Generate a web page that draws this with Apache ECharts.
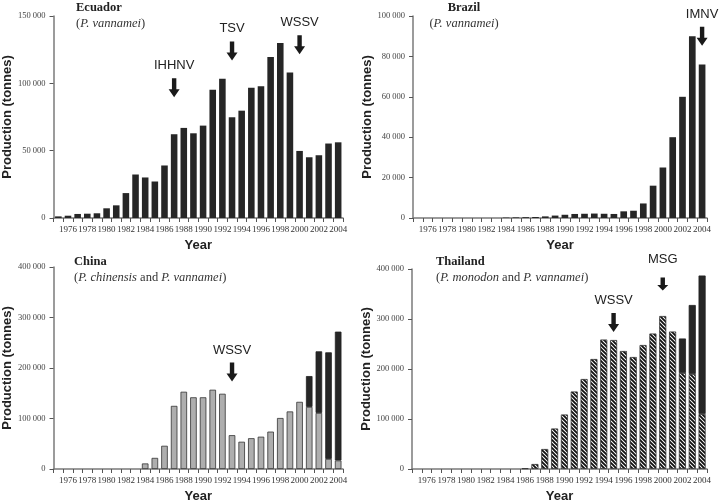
<!DOCTYPE html>
<html>
<head>
<meta charset="utf-8">
<script src="https://cdn.jsdelivr.net/npm/echarts@6/dist/echarts.min.js"></script>
<style>
  html, body { margin: 0; padding: 0; background: #fff; }
  #chart { width: 720px; height: 504px; }
</style>
</head>
<body>
<div id="chart"></div>
<script>
const years = ['1975', '1976', '1977', '1978', '1979', '1980', '1981', '1982', '1983', '1984',
  '1985', '1986', '1987', '1988', '1989', '1990', '1991', '1992', '1993', '1994',
  '1995', '1996', '1997', '1998', '1999', '2000', '2001', '2002', '2003', '2004']

// production, tonnes
const ecuador = [1200, 1700, 3000, 3200, 3500, 7200, 9400, 18500, 32300, 30100,
  27100, 39000, 62200, 66900, 62900, 68600, 95200, 103400, 74800, 79700,
  96700, 97900, 119600, 130000, 108000, 49800, 45100, 46600, 55300, 56200]
const brazil = [0, 0, 0, 0, 0, 0, 0, 0, 0, 200,
  300, 400, 500, 800, 1200, 1600, 2000, 2100, 2200, 2100,
  2000, 3300, 3600, 7200, 16000, 25000, 40000, 60000, 90000, 76000]
const chinaChinensis = [null, null, null, null, null, null, null, null, null, 11000,
  22000, 46000, 125000, 153000, 142000, 142000, 157000, 149000, 67000, 54000,
  61000, 64000, 74000, 101000, 114000, 133000, 123000, 111000, 20000, 17000]
const chinaVannamei = [null, null, null, null, null, null, null, null, null, null,
  null, null, null, null, null, null, null, null, null, null,
  null, null, null, null, null, null, 61000, 122000, 211000, 255000]
const thaiMonodon = [null, null, null, null, null, null, null, null, null, null,
  null, 1500, 10000, 40000, 81000, 109000, 155000, 180000, 220000, 259000,
  258000, 236000, 224000, 248000, 271000, 306000, 275000, 192000, 190000, 110000]
const thaiVannamei = [null, null, null, null, null, null, null, null, null, null,
  null, null, null, null, null, null, null, null, null, null,
  null, null, null, null, null, null, null, 69000, 138000, 277000]

// disease outbreaks: label, year, arrow height (tonnes)
const ecuadorEvents = ['IHHNV', 'TSV', 'WSSV']
const ecuadorEventYears = ['1987', '1993', '2000']
const ecuadorEventLevels = [96700, 124100, 128600]
const brazilEvents = ['IMNV']
const brazilEventYears = ['2004']
const brazilEventLevels = [90000]
const chinaEvents = ['WSSV']
const chinaEventYears = ['1993']
const chinaEventLevels = [192000]
const thaiEvents = ['WSSV', 'MSG']
const thaiEventYears = ['1995', '2000']
const thaiEventLevels = [293000, 370000]

const SERIF = 'Liberation Serif'
const SANS = 'Liberation Sans'
const DARK = '#262626'
const ARROW = 'path://M3.3,0 L7.7,0 L7.7,11 L11,11 L5.5,19 L0,11 L3.3,11 Z'

// hatch pattern for P. monodon
const hatch = document.createElement('canvas')
hatch.width = 4
hatch.height = 4
const hctx = hatch.getContext('2d')
hctx.fillStyle = '#fff'
hctx.fillRect(0, 0, 4, 4)
hctx.strokeStyle = '#111'
hctx.lineWidth = 1.9
hctx.beginPath()
hctx.moveTo(-1, -1); hctx.lineTo(5, 5)
hctx.moveTo(-1, 3); hctx.lineTo(1, 5)
hctx.moveTo(3, -1); hctx.lineTo(5, 1)
hctx.stroke()

const grids = [
  { left: 49, top: 16, width: 294, height: 202 },
  { left: 413, top: 16, width: 294, height: 202 },
  { left: 49, top: 267, width: 294, height: 204 },
  { left: 412, top: 269, width: 295, height: 202 }
]
const yMax = [150000, 100000, 400000, 400000]
const yStep = [50000, 20000, 100000, 100000]

function markers(names, yrs, levels, short) {
  return {
    symbol: ARROW,
    symbolSize: [11, 19],
    itemStyle: { color: '#1a1a1a' },
    label: {
      show: true,
      position: 'top',
      distance: 6,
      formatter: '{b}',
      fontFamily: SANS,
      fontSize: 13,
      color: '#222'
    },
    data: names.map((n, i) => {
      const d = { name: n, coord: [yrs[i], levels[i]] }
      if (short && short.includes(n)) {
        d.symbolSize = [11, 13]
        d.label = { distance: 12 }
      }
      return d
    })
  }
}

const titleStyle = { fontFamily: SERIF, fontWeight: 'bold', fontSize: 12.5, color: '#222' }
const subStyle = {
  fontFamily: SERIF, fontSize: 12.5, color: '#333',
  rich: { i: { fontFamily: SERIF, fontStyle: 'italic', fontSize: 12.5, color: '#333' } }
}

const option = {
  animation: false,
  backgroundColor: '#fff',
  title: [
    { text: 'Ecuador', subtext: '({i|P. vannamei})', left: 76, top: 1 },
    { text: 'Brazil', subtext: '({i|P. vannamei})', left: 464, top: 1, textAlign: 'center' },
    { text: 'China', subtext: '({i|P. chinensis} and {i|P. vannamei})', left: 74, top: 255 },
    { text: 'Thailand', subtext: '({i|P. monodon} and {i|P. vannamei})', left: 436, top: 255 }
  ].map(t => Object.assign(t, { padding: 0, itemGap: 3, textStyle: titleStyle, subtextStyle: subStyle })),
  grid: grids,
  xAxis: grids.map((g, i) => ({
    type: 'category',
    gridIndex: i,
    data: years,
    name: 'Year',
    nameLocation: 'middle',
    nameGap: 21,
    nameTextStyle: { fontFamily: SANS, fontWeight: 'bold', fontSize: 13, color: '#222', verticalAlign: 'top' },
    axisLine: { lineStyle: { color: '#7a7a7a', width: 1.5 } },
    axisTick: { show: true, interval: 0, length: 4, lineStyle: { color: '#555' } },
    axisLabel: {
      interval: (idx) => idx % 2 === 1,
      margin: 7,
      fontFamily: SERIF,
      fontSize: 9,
      color: '#333'
    }
  })),
  yAxis: grids.map((g, i) => ({
    type: 'value',
    gridIndex: i,
    min: 0,
    max: yMax[i],
    interval: yStep[i],
    name: 'Production (tonnes)',
    nameLocation: 'middle',
    nameGap: 32,
    nameTextStyle: { fontFamily: SANS, fontWeight: 'bold', fontSize: 13, color: '#222' },
    axisLine: { show: true, lineStyle: { color: '#7a7a7a', width: 1.5 } },
    axisTick: { show: true, length: 4, lineStyle: { color: '#555' } },
    splitLine: { show: false },
    axisLabel: {
      margin: 8,
      fontFamily: SERIF,
      fontSize: 8.5,
      color: '#444',
      formatter: (v) => (v === 0 ? '0' : v / 1000 + ' 000')
    }
  })),
  series: [
    {
      type: 'bar', xAxisIndex: 0, yAxisIndex: 0, data: ecuador, barWidth: '68%',
      itemStyle: { color: DARK },
      markPoint: markers(ecuadorEvents, ecuadorEventYears, ecuadorEventLevels)
    },
    {
      type: 'bar', xAxisIndex: 1, yAxisIndex: 1, data: brazil, barWidth: '68%',
      itemStyle: { color: DARK },
      markPoint: markers(brazilEvents, brazilEventYears, brazilEventLevels)
    },
    {
      type: 'bar', xAxisIndex: 2, yAxisIndex: 2, data: chinaChinensis, stack: 'china', barWidth: '68%',
      itemStyle: { color: '#aeaeae', borderColor: '#333', borderWidth: 0.8 },
      markPoint: markers(chinaEvents, chinaEventYears, chinaEventLevels)
    },
    {
      type: 'bar', xAxisIndex: 2, yAxisIndex: 2, data: chinaVannamei, stack: 'china', barWidth: '68%',
      itemStyle: { color: DARK, borderColor: '#222', borderWidth: 0.8 }
    },
    {
      type: 'bar', xAxisIndex: 3, yAxisIndex: 3, data: thaiMonodon, stack: 'thai', barWidth: '72%',
      itemStyle: { color: { image: hatch, repeat: 'repeat' }, borderColor: '#333', borderWidth: 0.8 },
      markPoint: markers(thaiEvents, thaiEventYears, thaiEventLevels, ['MSG'])
    },
    {
      type: 'bar', xAxisIndex: 3, yAxisIndex: 3, data: thaiVannamei, stack: 'thai', barWidth: '72%',
      itemStyle: { color: DARK, borderColor: '#222', borderWidth: 0.8 }
    }
  ]
}

const chart = echarts.init(document.getElementById('chart'), null, { renderer: 'canvas' })
chart.setOption(option)
window.addEventListener('resize', () => chart.resize())
</script>
</body>
</html>
